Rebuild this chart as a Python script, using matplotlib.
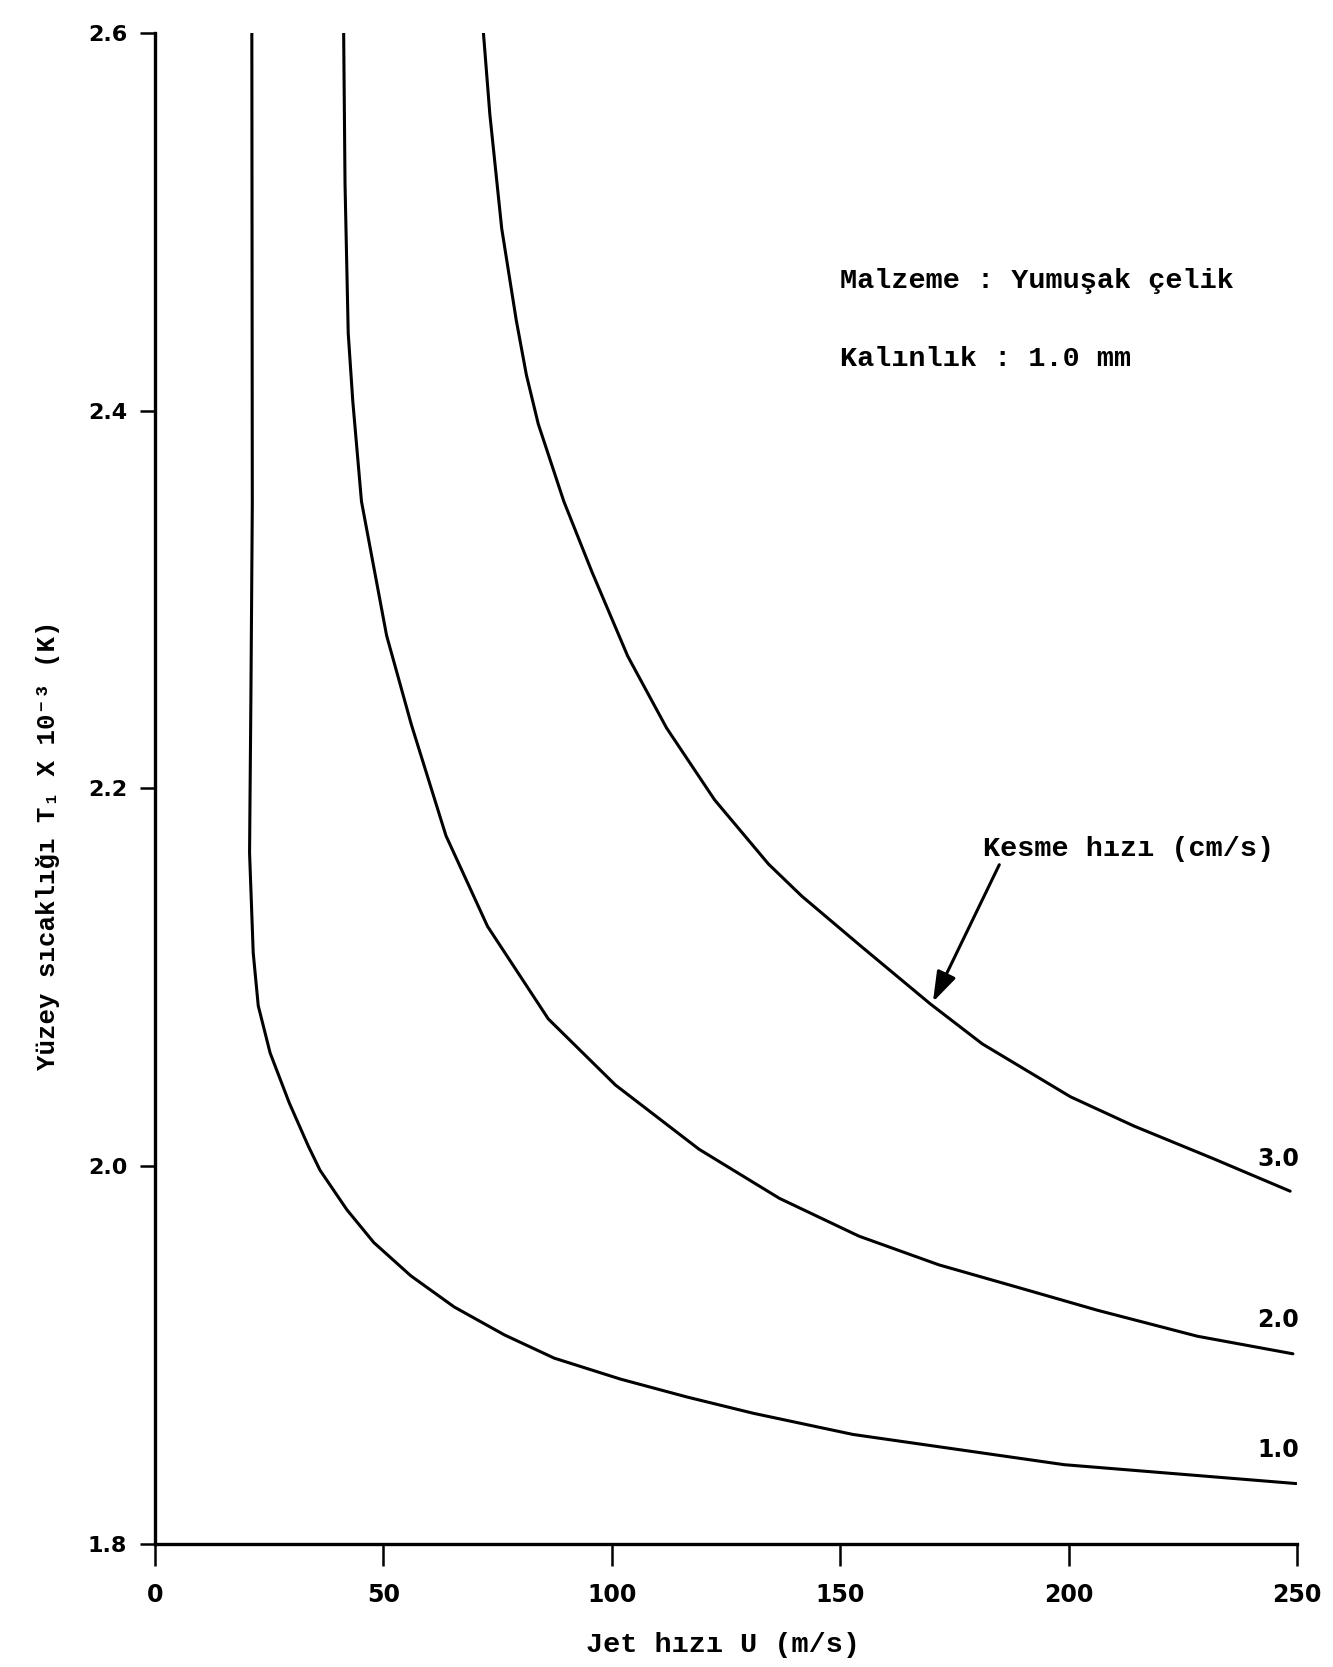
import matplotlib
matplotlib.use("Agg")
import matplotlib.pyplot as plt

# ---- data ----
# Jet velocity U (m/s) vs surface temperature T1 x 10^-3 (K), per cutting speed (cm/s)
x_10 = [21.2, 21.3, 21.0, 20.7, 21.5, 22.6, 25.2, 29.4, 33.5, 36.1, 42.0, 47.9, 56.0, 65.5, 76.5, 87.4, 101.9, 116.5, 131.0, 152.8, 199.0, 249.8]
y_10 = [2.60, 2.35, 2.25, 2.166, 2.113, 2.085, 2.060, 2.0335, 2.011, 1.998, 1.977, 1.9596, 1.942, 1.9255, 1.9107, 1.8984, 1.8873, 1.8778, 1.8692, 1.858, 1.842, 1.832]

x_20 = [41.3, 41.6, 42.3, 43.3, 45.2, 50.7, 56.1, 63.7, 72.8, 86.1, 100.8, 119.1, 136.7, 154.1, 171.6, 189.0, 206.4, 228.2, 249.1]
y_20 = [2.60, 2.52, 2.441, 2.405, 2.352, 2.281, 2.234, 2.175, 2.127, 2.078, 2.043, 2.009, 1.983, 1.963, 1.9478, 1.9358, 1.9237, 1.910, 1.9007]

x_30 = [71.9, 73.3, 75.9, 79.1, 81.3, 83.9, 89.5, 95.6, 103.5, 112.0, 122.5, 134.3, 141.6, 154.8, 169.7, 181.1, 200.4, 214.4, 231.9, 248.5]
y_30 = [2.60, 2.557, 2.4965, 2.4477, 2.419, 2.393, 2.352, 2.315, 2.270, 2.232, 2.194, 2.160, 2.143, 2.116, 2.086, 2.0648, 2.0368, 2.0212, 2.0038, 1.9868]

series_labels = ["1.0", "2.0", "3.0"]
label_y = [1.8496, 1.9186, 2.004]

x_ticks = [0, 50, 100, 150, 200, 250]
y_ticks = [1.8, 2.0, 2.2, 2.4, 2.6]
y_tick_labels = ["1.8", "2.0", "2.2", "2.4", "2.6"]

x_label = "Jet hızı U (m/s)"
y_label = "Yüzey sıcaklığı T₁ X 10⁻³ (K)"
note1 = "Malzeme : Yumuşak çelik"
note2 = "Kalınlık : 1.0 mm"
arrow_text = "Kesme hızı (cm/s)"

# ---- figure ----
W, H = 1333, 1667
fig = plt.figure(figsize=(W / 100, H / 100), dpi=100)
fig.patch.set_facecolor("white")

left, right, bottom, top = 155 / W, 1297 / W, 1 - 1544 / H, 1 - 33 / H
ax = fig.add_axes([left, bottom, right - left, top - bottom])

mono = ["Liberation Mono", "DejaVu Sans Mono"]
num_font = dict(family=["DejaVu Sans"], weight="bold")

lw = 2.2
for xs, ys in [(x_10, y_10), (x_20, y_20), (x_30, y_30)]:
    ax.plot(xs, ys, color="black", lw=lw, solid_capstyle="round", solid_joinstyle="round")

ax.set_xlim(0, 250)
ax.set_ylim(1.8, 2.6)

for s in ["top", "right"]:
    ax.spines[s].set_visible(False)
for s in ["left", "bottom"]:
    ax.spines[s].set_linewidth(2.4)

ax.set_xticks(x_ticks)
ax.set_xticklabels([str(v) for v in x_ticks], fontsize=17, **num_font)
ax.set_yticks(y_ticks)
ax.set_yticklabels(y_tick_labels, fontsize=16, **num_font)
ax.tick_params(axis="x", direction="out", length=16, width=1.8, pad=12)
ax.tick_params(axis="y", direction="out", length=11, width=1.8, pad=9)

# curve labels
for lab, yy in zip(series_labels, label_y):
    ax.text(250.5, yy, lab, ha="right", va="center", fontsize=17, **num_font)

# notes
ax.text(150.0, 2.4686, note1, ha="left", va="center", fontsize=20.5,
        family=mono, weight="bold")
ax.text(150.0, 2.4276, note2, ha="left", va="center", fontsize=20.5,
        family=mono, weight="bold")

# arrow annotation
ax.annotate(arrow_text, xy=(170.3, 2.087), xytext=(181.3, 2.168),
            ha="left", va="center", fontsize=20.5, family=mono, weight="bold",
            arrowprops=dict(arrowstyle="-|>,head_length=0.9,head_width=0.3",
                            color="black", lw=2.2, shrinkA=0, shrinkB=0,
                            relpos=(0.06, 0.0)))

# axis labels
fig.text(48 / W, 1 - 845 / H, y_label, rotation=90, ha="center", va="center",
         fontsize=18.5, family=mono, weight="bold")
fig.text(723 / W, 1 - 1645 / H, x_label, ha="center", va="center",
         fontsize=20.5, family=mono, weight="bold")

fig.savefig("out.png", dpi=100, facecolor="white")
